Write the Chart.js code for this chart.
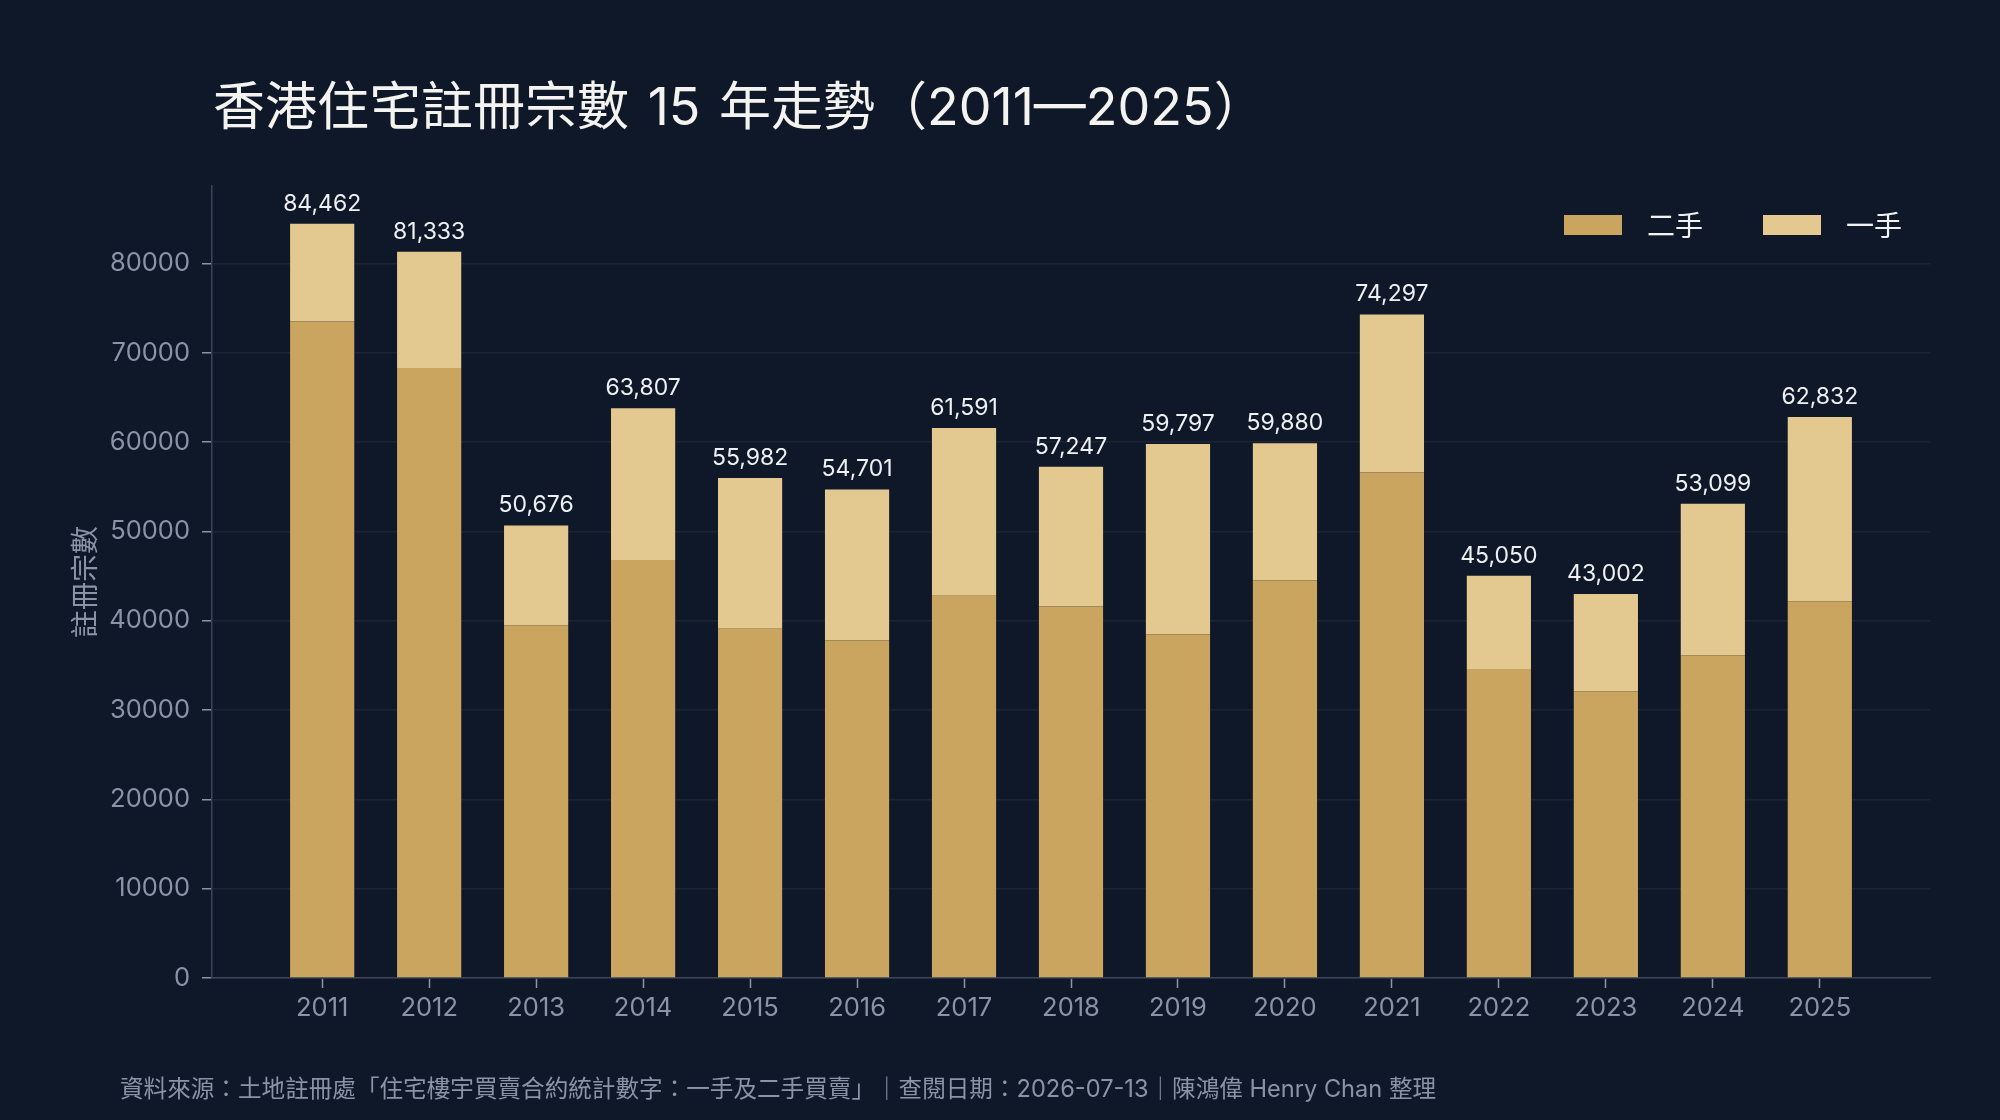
<!DOCTYPE html>
<html lang="zh-Hant">
<head>
<meta charset="utf-8">
<title>香港住宅註冊宗數 15 年走勢</title>
<script src="https://cdn.jsdelivr.net/npm/chart.js@4.4.1/dist/chart.umd.min.js"></script>
<style>
    html, body { margin: 0; padding: 0; background: #0f1829; }
    #wrap { position: relative; width: 2000px; height: 1120px; overflow: hidden; }
    #chart { position: absolute; left: 0; top: 0; }
    .title {
        position: absolute; left: 213px; top: 73px;
        font: 52px "Inter", "Noto Sans CJK TC", sans-serif;
        line-height: 68px; color: #f4f3ef; white-space: nowrap;
        word-spacing: 4px;
    }
    .source {
        position: absolute; left: 120px; top: 1074px;
        font: 23.6px "Inter", "Noto Sans CJK TC", sans-serif;
        line-height: 30px; color: #8a94a6; white-space: nowrap;
    }
</style>
</head>
<body>
<div id="wrap">
    <canvas id="chart" width="2000" height="1120"></canvas>
    <div class="title">香港住宅註冊宗數 15 年走勢（2011—2025）</div>
    <div class="source">資料來源：土地註冊處「住宅樓宇買賣合約統計數字：一手及二手買賣」｜查閱日期：2026-07-13｜陳鴻偉 Henry Chan 整理</div>
</div>
<script>
// Data
const years = [2011, 2012, 2013, 2014, 2015, 2016, 2017, 2018, 2019, 2020, 2021, 2022, 2023, 2024, 2025];
const secondHand = [73500, 68300, 39500, 46800, 39100, 37800, 42800, 41600, 38500, 44500, 56600, 34600, 32100, 36100, 42200];
const firstHand = [10962, 13033, 11176, 17007, 16882, 16901, 18791, 15647, 21297, 15380, 17697, 10450, 10902, 16999, 20632];
const yTicks = [0, 10000, 20000, 30000, 40000, 50000, 60000, 70000, 80000];

const axisGrey = '#8a94a6';
const numFont = '"Inter", "Noto Sans CJK TC", sans-serif';
const cjkFont = '"Noto Sans CJK TC", sans-serif';

// Totals written above each stacked bar
const totalLabels = {
    id: 'totalLabels',
    afterDatasetsDraw(chart) {
        const ctx = chart.ctx;
        const topMeta = chart.getDatasetMeta(1);
        ctx.save();
        ctx.font = '23px ' + numFont;
        ctx.fillStyle = '#eef0f2';
        ctx.textAlign = 'center';
        ctx.textBaseline = 'alphabetic';
        topMeta.data.forEach((bar, i) => {
            const total = secondHand[i] + firstHand[i];
            ctx.fillText(total.toLocaleString('en-US'), bar.x, bar.y - 13);
        });
        ctx.restore();
    }
};

// Legend in the top right corner of the plot
const cornerLegend = {
    id: 'cornerLegend',
    afterDraw(chart) {
        const ctx = chart.ctx;
        const area = chart.chartArea;
        ctx.save();
        ctx.font = '28px ' + cjkFont;
        ctx.textBaseline = 'middle';
        let x = area.right - 28;
        const y = area.top + 39;
        chart.data.datasets.slice().reverse().forEach(ds => {
            const w = ctx.measureText(ds.label).width;
            x -= w;
            ctx.fillStyle = '#f2f2f2';
            ctx.fillText(ds.label, x, y);
            x -= 25 + 58;
            ctx.fillStyle = ds.backgroundColor;
            ctx.fillRect(x, y - 10, 58, 20);
            x -= 60;
        });
        ctx.restore();
    }
};

const ctx = document.getElementById('chart').getContext('2d');
new Chart(ctx, {
    type: 'bar',
    data: {
        datasets: [
            {
                label: '二手',
                data: years.map((yr, i) => ({ x: yr, y: secondHand[i] })),
                backgroundColor: '#c9a55f',
                borderWidth: 0
            },
            {
                label: '一手',
                data: years.map((yr, i) => ({ x: yr, y: firstHand[i] })),
                backgroundColor: '#e3c98f',
                borderWidth: 0
            }
        ]
    },
    options: {
        responsive: false,
        animation: false,
        devicePixelRatio: 1,
        categoryPercentage: 1,
        barPercentage: 0.6,
        layout: { padding: { left: 62, right: 70, top: 186, bottom: 82 } },
        plugins: {
            legend: { display: false },
            tooltip: { enabled: false }
        },
        scales: {
            x: {
                type: 'linear',
                stacked: true,
                min: 2009.97,
                max: 2026.03,
                offset: false,
                afterFit(s) { s.height = 60; },
                afterBuildTicks(s) { s.ticks = years.map(v => ({ value: v })); },
                border: { color: '#3a4456', width: 1.5 },
                grid: {
                    display: true, drawOnChartArea: false, offset: false,
                    tickColor: axisGrey, tickLength: 10, tickWidth: 1.5
                },
                ticks: {
                    color: axisGrey, font: { family: numFont, size: 25.5 },
                    padding: 5, maxRotation: 0, autoSkip: false,
                    callback: v => String(v)
                }
            },
            y: {
                stacked: true,
                min: 0,
                max: 88685,
                afterFit(s) { s.width = 150; },
                afterBuildTicks(s) { s.ticks = yTicks.map(v => ({ value: v })); },
                border: { color: '#3a4456', width: 1.5 },
                grid: {
                    color: '#1c2434', lineWidth: 1.5,
                    tickColor: axisGrey, tickLength: 10, tickWidth: 1.5
                },
                ticks: {
                    color: axisGrey, font: { family: numFont, size: 25.5 },
                    padding: 12,
                    callback: v => String(v)
                },
                title: {
                    display: true, text: '註冊宗數', color: axisGrey,
                    font: { family: cjkFont, size: 28 },
                    padding: { top: 6, bottom: 0 }
                }
            }
        }
    },
    plugins: [totalLabels, cornerLegend]
});
</script>
</body>
</html>
